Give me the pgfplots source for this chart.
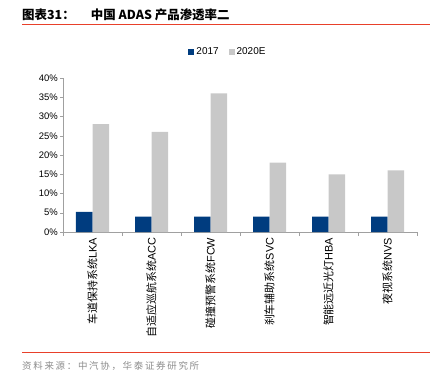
\documentclass[border=0pt]{standalone}
\usepackage{fontspec}
\setmainfont{Liberation Sans}
\newfontfamily\cjk{Noto Sans CJK SC}
\newfontfamily\cjksp[LetterSpace=18]{Noto Sans CJK SC}
\usepackage{pgfplots}
\pgfplotsset{compat=1.18}
\definecolor{navy}{HTML}{003C7F}
\definecolor{lgray}{HTML}{C8C8C8}
\definecolor{hred}{HTML}{E8402A}
\definecolor{axgray}{HTML}{A0A0A0}
\begin{document}
\begin{tikzpicture}
\path[use as bounding box] (0bp,0bp) rectangle (435bp,-380bp);
\node[anchor=west,inner sep=0pt,font=\cjk\bfseries\fontsize{12.5}{14}\selectfont] at (22bp,-15bp) {图表31：\hspace{1.3em}中国 ADAS 产品渗透率二};
\draw[hred,line width=0.8bp] (22bp,-24.5bp) -- (430bp,-24.5bp);
\draw[hred,line width=0.8bp] (22bp,-352bp) -- (430bp,-352bp);
\node[anchor=west,inner sep=0pt,font=\cjksp\fontsize{9.5}{11}\selectfont,text=black!45] at (22bp,-366bp) {资料来源：中汽协，华泰证券研究所};
\begin{axis}[
  at={(63bp,-232bp)}, anchor=south west,
  scale only axis, width=354bp, height=154bp,
  ybar=0pt, bar width=16.5bp,
  xmin=-0.5, xmax=5.5, ymin=0, ymax=40,
  enlargelimits=false,
  ytick={0,5,...,40},
  yticklabel={\pgfmathprintnumber{\tick}\%},
  xtick={0,...,5},
  xticklabels={{\cjk 车道保持系统}LKA,{\cjk 自适应巡航系统}ACC,{\cjk 碰撞预警系统}FCW,{\cjk 刹车辅助系统}SVC,{\cjk 智能远近光灯}HBA,{\cjk 夜视系统}NVS},
  minor xtick={-0.5,0.5,...,5.5},
  major x tick style={draw=none},
  axis x line*=bottom, axis y line*=left,
  axis line style={axgray,-},
  tick style={axgray},
  tick align=outside,
  major tick length=3bp, minor tick length=4bp,
  /pgf/number format/assume math mode=true,
  x tick label style={rotate=90,anchor=east,font=\fontsize{11}{12}\selectfont,inner sep=2.5pt},
  y tick label style={font=\fontsize{9.5}{11}\selectfont,inner sep=2pt},
  legend style={at={(0.466,1.17)},anchor=center,draw=none,legend columns=2,
    font=\fontsize{10}{12}\selectfont,
    /tikz/every even column/.append style={column sep=8bp}},
  legend image code/.code={\fill[#1] (0bp,-3bp) rectangle (6bp,3bp);},
]
\addplot[fill=navy,draw=none] coordinates {(0,5.2)(1,4)(2,4)(3,4)(4,4)(5,4)};
\addplot[fill=lgray,draw=none] coordinates {(0,28)(1,26)(2,36)(3,18)(4,15)(5,16)};
\legend{2017,2020E}
\end{axis}
\end{tikzpicture}
\end{document}
